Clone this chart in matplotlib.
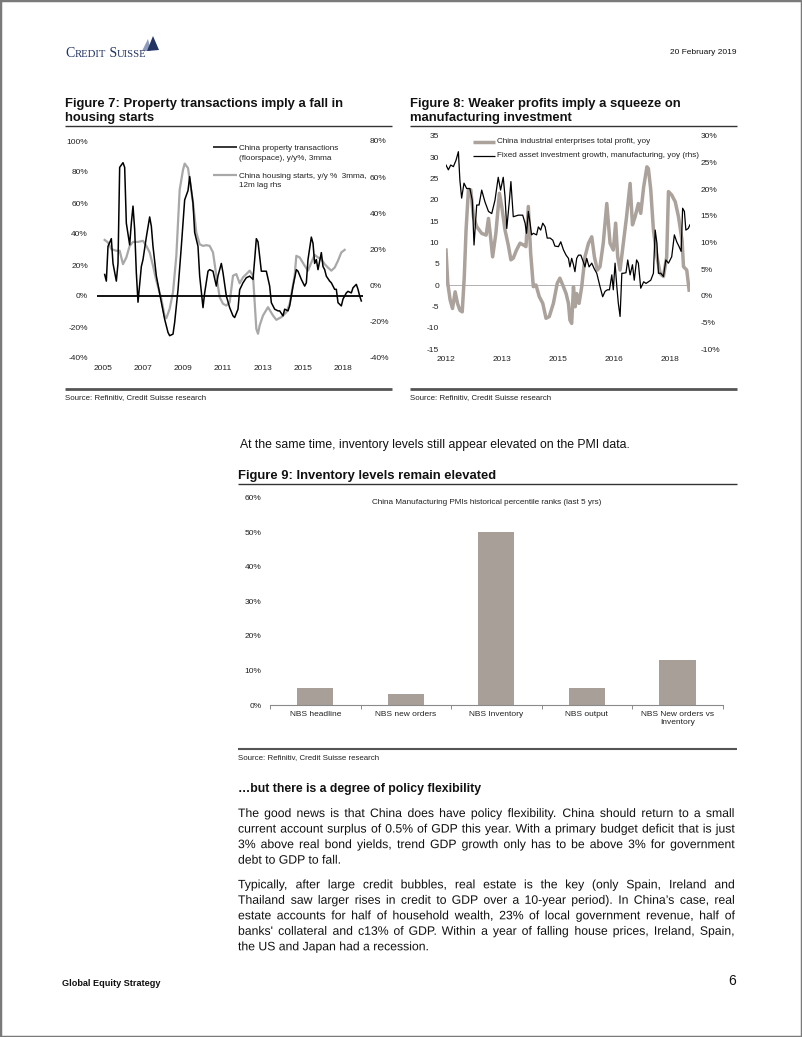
import matplotlib
matplotlib.use('Agg')
import matplotlib.pyplot as plt
import matplotlib.patheffects as pe
from matplotlib.lines import Line2D
from matplotlib.patches import Rectangle, Polygon

# ---- data ----
# Figure 7: months since Jan 2005
prop_m = [1,2,3,5,6,8,9,10,12,13,14,16,17,18,19,20,21,23,24,26,28,29,30,32,35,37,39,40,42,43,45,47,49,51,52,54,55,57,58,60,
          61,63,64,66,68,69,71,72,74,76,78,79,81,82,84,86,88,90,91,92,93,94,95,97,98,100,101,103,105,106,108,109,111,112,114,116,117,119,121,122,
          123,125,126,127,128,129,131,132,133,134,136,137,139,140,141,143,144,146,147,149,150,152,153,154,155]
prop_v = [13.9,9.6,32,37,21,9.6,21,83,86,83,47,33,47,58,43,15,-4,19,23.5,38,51,45,32,13,-4,-15,-23.5,-25.6,-24.6,-17,
          4,32,62,68,77,60,41,32,13,-7.5,2,16,17,16,6.4,13,21,15,0,-7.5,-12.8,-13.9,-8.5,4,8.5,11.8,12.8,10.7,23.5,37,
          35,25.6,16,16,16,6.4,-4.3,-8.5,-9.6,-9.6,-12.8,-8.5,-9.6,-6.4,6.4,17,16,10.7,6.4,8.5,23.5,38,34,21,23.5,17,28,19,17,12.8,
          9.6,8.5,4.3,4.3,-4.3,-6.4,-2,2,3,2,5.3,7.5,4.3,0,-3.2]
starts_m = [1,3,5,8,10,12,14,16,18,21,24,26,28,30,32,35,37,38,40,42,44,46,48,49,51,52,54,56,58,60,62,64,66,68,70,72,74,76,78,80,
            82,84,86,88,90,91,92,93,94,96,99,102,104,107,110,112,115,116,118,121,123,125,127,129,131,133,135,137,139,141,143,145]
starts_v = [25.3,23.9,20.2,19.3,19.3,11.9,15.6,22,24.2,24.2,24.8,22,18.4,11,2.8,-7.3,-17,-18,-12.8,-3.7,16.5,53,64,67.5,65,58.7,45.9,29.4,22.9,22,
            22.4,22,18.4,5.5,-6.4,-10,-11,-9.2,5.5,6.4,1.3,4.6,6.4,8.3,5.5,-9.2,-23.9,-26.6,-22,-16.5,-11.9,-16.5,-18.9,-17.4,-14.7,-10,5.5,16.5,15.6,11,
            8.3,12.8,17,15.6,14.7,11.9,10,8.3,10,13.8,18.4,19.8]
fig7_ticks = [0, 24, 48, 72, 96, 120, 144]
fig7_labels = ['2005', '2007', '2009', '2011', '2013', '2015', '2018']
prop_label = 'China property transactions\n(floorspace), y/y%, 3mma'
starts_label = 'China housing starts, y/y %  3mma,\n12m lag rhs'

# Figure 8: months since Jan 2012
profit_m = [0,0.6,1.4,2.2,3.1,3.9,4.7,5.5,6.2,6.8,7.6,8.4,9.3,10.4,12.1,13.6,14.4,15.1,15.8,16.9,18.1,18.9,20,21.1,22,22.8,23.9,25.1,26.2,27.1,
            27.9,28.7,29.6,30.5,31.6,32.8,33.9,35,36.4,37.7,38.6,39.8,40.7,41.5,42,42.6,43.2,43.8,44.3,45.1,46,47.1,48.3,49.4,50.3,51.3,52.2,53.3,54.5,55.6,
            56.7,57.5,58.2,59,60.1,61.2,62.4,63.2,64.1,65.2,66,67,68.1,68.6,69.4,70.3,71.5,72.6,73.7,74.8,75.4,76.5,77.7,78.8,80,80.5,81.6,82.4]
profit_v = [8.2,0.4,-3.5,-5.5,-1.6,-4.3,-5.9,-6.3,2,12.9,22.3,22.3,16,13.7,12.1,11.7,15.6,11.3,6.6,12.1,21.5,18.4,12.9,9.4,5.9,6.3,8.2,9.8,9.4,9,
            18.4,7.4,-0.4,0,-2.7,-4.3,-7.8,-7.4,-4.3,0.4,1.6,-0.4,-2,-4.3,-8.2,-9,-0.4,-5.1,-2,-4.3,-0.4,6.6,9.8,11.3,6.6,3.5,4.3,9.8,19.1,9.8,
            8.2,14.5,6.6,3.5,9.8,16,23.8,14.1,16,19.1,16.8,23,27.7,27.3,22.3,12.9,6.6,2.7,2,6.6,21.9,21.1,19.5,16,10.5,4.3,3.5,-1.2]
fai_m = [0,0.8,1.6,2.5,3.4,4.2,4.7,5.3,6.1,7,8.1,8.9,9.5,10.4,11.2,12.1,13.2,14.4,15.5,16.6,17.7,18.5,19.4,20,20.6,21.5,22,22.8,24.5,26,
         26.8,27.3,27.9,28.5,29,29.6,30.7,31.3,32.1,32.8,33.6,34.3,35.3,36.2,36.9,38.1,38.9,39.8,40.7,41.5,42,42.6,43.2,43.7,44.3,44.9,45.7,46.5,47.1,47.7,
         48.5,49.4,50.2,51.1,52.2,53.1,53.9,54.7,55.4,56.2,56.7,57.3,57.9,58.4,59,59.6,60.1,61,61.6,62.4,63.2,63.8,64.6,65.2,66,67,67.8,68.6,69.4,70.3,
         70.9,71.5,72,72.8,73.7,74.5,75.4,76.5,77.4,78.2,79,79.7,80.2,80.8,81.3,82.1,82.7]
fai_v = [24.5,23.6,24.5,24.2,25.4,27,21.7,18.3,21.1,20.1,20.1,17.9,9.5,17,17,19.8,17.6,15.8,15.4,17.9,22.2,19.8,22.2,18.6,12.6,17.9,21.4,14.8,15.1,15.1,
         13.6,11.7,15.8,13.6,11.4,11.7,11.4,12.9,12.3,13.6,12.9,10.8,10.8,10.4,9.3,9.2,10.1,8.6,7.6,7,5.4,7,5.8,4.5,7,7.6,7.6,6.4,5.4,7,
         5.4,6.1,5.1,4.2,1.7,-0.2,0.8,1.1,1.1,3.9,1.1,6.1,1.7,-1.4,-3.9,4.2,4.2,4.3,6.7,3.9,5.8,2.9,6.7,6.1,1.4,2.6,2.3,2.6,2.9,4.2,
         12.3,9.8,4.2,4.2,3.6,6.7,6.1,7.3,11.4,10.1,9.2,8.3,16.4,15.8,12.3,12.6,13.3]
fig8_ticks = [0, 19, 38, 57, 76]
fig8_labels = ['2012', '2013', '2015', '2016', '2018']
profit_label = 'China industrial enterprises total profit, yoy'
fai_label = 'Fixed asset investment growth, manufacturing, yoy (rhs)'

# Figure 9
pmi_cats = ['NBS headline', 'NBS new orders', 'NBS Inventory', 'NBS output', 'NBS New orders vs\nInventory']
pmi_ranks = [4.8, 3.2, 50.0, 4.8, 12.9]

para1 = ["The good news is that China does have policy flexibility. China should return to a small",
         "current account surplus of 0.5% of GDP this year. With a primary budget deficit that is just",
         "3% above real bond yields, trend GDP growth only has to be above 3% for government",
         "debt to GDP to fall."]
para2 = ["Typically, after large credit bubbles, real estate is the key (only Spain, Ireland and",
         "Thailand saw larger rises in credit to GDP over a 10-year period). In China\u2019s case, real",
         "estate accounts for half of household wealth, 23% of local government revenue, half of",
         "banks' collateral and c13% of GDP. Within a year of falling house prices, Ireland, Spain,",
         "the US and Japan had a recession."]

# ---- page ----
plt.rcParams['font.family'] = ['Liberation Sans', 'DejaVu Sans']
plt.rcParams['axes.unicode_minus'] = False
W, H = 802, 1037
fig = plt.figure(figsize=(W / 100, H / 100), dpi=100)
fig.patch.set_facecolor('white')
renderer = fig.canvas.get_renderer()

def fx(x):
    return x / W

def fy(y):
    return 1 - y / H

def put(x, y, s, **kw):
    kw.setdefault('va', 'center')
    return fig.text(fx(x), fy(y), s, **kw)

def hline(x0, x1, y, lw, color):
    fig.add_artist(Line2D([fx(x0), fx(x1)], [fy(y), fy(y)], lw=lw, color=color,
                          transform=fig.transFigure, solid_capstyle='butt'))

def axes_px(x0, y0, x1, y1):
    return fig.add_axes([fx(x0), fy(y1), (x1 - x0) / W, (y1 - y0) / H])

def bare(ax):
    for s in ax.spines.values():
        s.set_visible(False)

def justify(lines, x0, x1, y0, step, size):
    # one text per word on a shared baseline; drawn as outlines (path effect)
    # so that the bitmap rounding of Agg does not make single words jump
    fx_ = [pe.Normal()]
    for i, line in enumerate(lines):
        yb = y0 + i * step + 4.3
        if i == len(lines) - 1:
            put(x0, yb, line, fontsize=size, color='#111', va='baseline', path_effects=fx_)
            continue
        words = line.split(' ')
        texts = [put(x0, yb, w, fontsize=size, color='#111', va='baseline', path_effects=fx_) for w in words]
        widths = [t.get_window_extent(renderer).width for t in texts]
        gap = (x1 - x0 - sum(widths)) / (len(words) - 1)
        x = x0
        for t, w in zip(texts, widths):
            t.set_x(fx(x))
            x += w + gap

fig.add_artist(Rectangle((0, 0), 1, 1, fill=False, edgecolor='#7a7a7a', lw=2.5, transform=fig.transFigure))

# header
navy = '#233463'
xx = 65
for piece, sz in [('C', 10.0), ('REDIT', 7.7), (' S', 10.0), ('UISSE', 7.7)]:
    t = put(xx, 57, piece, fontsize=sz, family='Liberation Serif', color=navy, va='baseline')
    xx += t.get_window_extent(renderer).width
fig.add_artist(Polygon([(fx(142), fy(51)), (fx(148), fy(39)), (fx(151), fy(51))], closed=True,
                       facecolor='#8e9bbd', edgecolor='none', transform=fig.transFigure))
fig.add_artist(Polygon([(fx(147), fy(51)), (fx(153), fy(36)), (fx(159), fy(50))], closed=True,
                       facecolor=navy, edgecolor='none', transform=fig.transFigure))
put(736, 52, '20 February 2019', fontsize=6.0, ha='right', color='#111')

# ---- Figure 7 ----
put(65, 104, 'Figure 7: Property transactions imply a fall in', fontsize=9.4, weight='bold', color='#111')
put(65, 118, 'housing starts', fontsize=9.4, weight='bold', color='#111')
hline(65, 392, 126, 1.0, '#333')

ax7 = axes_px(97, 141, 363, 358)
ax7r = ax7.twinx()
ax7r.plot(starts_m, starts_v, color='#a8a8a8', lw=1.6)
ax7.plot(prop_m, prop_v, color='black', lw=1.1)
ax7.axhline(0, color='black', lw=1.3)
ax7.set_zorder(ax7r.get_zorder() + 1)
ax7.patch.set_visible(False)
ax7.set_xlim(-3.6, 156)
ax7.set_ylim(-40, 100)
ax7r.set_ylim(-40, 80)
ax7.set_yticks(range(-40, 101, 20))
ax7.set_yticklabels(['%d%%' % v for v in range(-40, 101, 20)])
ax7r.set_yticks(range(-40, 81, 20))
ax7r.set_yticklabels(['%d%%' % v for v in range(-40, 81, 20)])
ax7.set_xticks(fig7_ticks)
ax7.set_xticklabels(fig7_labels)
for a in (ax7, ax7r):
    bare(a)
ax7.tick_params(axis='y', length=0, pad=6.5, labelsize=6, colors='#222')
ax7r.tick_params(axis='y', length=0, pad=5, labelsize=6, colors='#222')
ax7.tick_params(axis='x', length=0, pad=4.7, labelsize=6, colors='#222')

hline(213, 237, 147.3, 1.1, 'black')
put(239, 153.5, prop_label, fontsize=5.9, color='#222', linespacing=1.45)
hline(213, 237, 175, 1.6, '#a8a8a8')
put(239, 181, starts_label, fontsize=5.9, color='#222', linespacing=1.45)

hline(65, 392, 389, 2.0, '#555')
put(65, 398, 'Source: Refinitiv, Credit Suisse research', fontsize=5.7, color='#222')

# ---- Figure 8 ----
put(410, 104, 'Figure 8: Weaker profits imply a squeeze on', fontsize=9.4, weight='bold', color='#111')
put(410, 118, 'manufacturing investment', fontsize=9.4, weight='bold', color='#111')
hline(410, 737, 126, 1.0, '#333')

ax8 = axes_px(446, 135.7, 690, 349)
ax8r = ax8.twinx()
ax8.axhline(0, color='#b0b0b0', lw=0.7)
ax8.plot(profit_m, profit_v, color='#aaa29b', lw=2.5, solid_joinstyle='round')
ax8r.plot(fai_m, fai_v, color='black', lw=0.9)
ax8.set_xlim(0, 82.7)
ax8.set_ylim(-15, 35)
ax8r.set_ylim(-10, 30)
ax8.set_yticks(range(-15, 36, 5))
ax8r.set_yticks(range(-10, 31, 5))
ax8r.set_yticklabels(['%d%%' % v for v in range(-10, 31, 5)])
ax8.set_xticks(fig8_ticks)
ax8.set_xticklabels(fig8_labels)
for a in (ax8, ax8r):
    bare(a)
ax8.tick_params(axis='y', length=0, pad=5, labelsize=6, colors='#222')
ax8r.tick_params(axis='y', length=0, pad=7.7, labelsize=6, colors='#222')
ax8.tick_params(axis='x', length=0, pad=5, labelsize=6, colors='#222')

hline(472.7, 495, 141.7, 2.5, '#aaa29b')
put(497, 141.7, profit_label, fontsize=5.9, color='#222')
hline(472.7, 495, 155.7, 0.9, 'black')
put(497, 155.7, fai_label, fontsize=5.9, color='#222')

hline(410, 737, 389, 2.0, '#555')
put(410, 398, 'Source: Refinitiv, Credit Suisse research', fontsize=5.7, color='#222')

# ---- body / Figure 9 ----
put(240, 445, 'At the same time, inventory levels still appear elevated on the PMI data.', fontsize=8.8, color='#111')
put(238, 476, 'Figure 9: Inventory levels remain elevated', fontsize=9.4, weight='bold', color='#111')
hline(238, 737, 484, 1.0, '#333')

ax9 = axes_px(270, 497.7, 722.7, 705)
ax9.bar(range(len(pmi_cats)), pmi_ranks, width=0.4, color='#a89f98')
ax9.set_xlim(-0.5, len(pmi_cats) - 0.5)
ax9.set_ylim(0, 60)
ax9.set_yticks(range(0, 61, 10))
ax9.set_yticklabels(['%d%%' % v for v in range(0, 61, 10)])
ax9.set_xticks(range(len(pmi_cats)))
ax9.set_xticklabels(pmi_cats, linespacing=1.3)
ax9.set_xticks([i - 0.5 for i in range(len(pmi_cats) + 1)], minor=True)
bare(ax9)
ax9.spines['bottom'].set_visible(True)
ax9.spines['bottom'].set_color('#8a8a8a')
ax9.spines['bottom'].set_linewidth(0.8)
ax9.tick_params(axis='y', length=0, pad=6.3, labelsize=6, colors='#222')
ax9.tick_params(axis='x', which='major', length=0, pad=4.3, labelsize=6, colors='#222')
ax9.tick_params(axis='x', which='minor', length=3, width=0.7, color='#8a8a8a')
put(486.7, 503, 'China Manufacturing PMIs historical percentile ranks (last 5 yrs)', fontsize=5.9, ha='center', color='#222')

hline(238, 737, 749, 1.5, '#555')
put(238, 758, 'Source: Refinitiv, Credit Suisse research', fontsize=5.7, color='#222')

put(238, 789.3, '\u2026but there is a degree of policy flexibility', fontsize=8.8, weight='bold', color='#111')
justify(para1, 238, 735, 812.7, 15.55, 8.8)
justify(para2, 238, 735, 884, 15.5, 8.8)

# footer
put(62, 983, 'Global Equity Strategy', fontsize=6.6, weight='bold', color='#111')
put(736, 981, '6', fontsize=10, ha='right', color='#111')

fig.savefig('out.png', dpi=100)
